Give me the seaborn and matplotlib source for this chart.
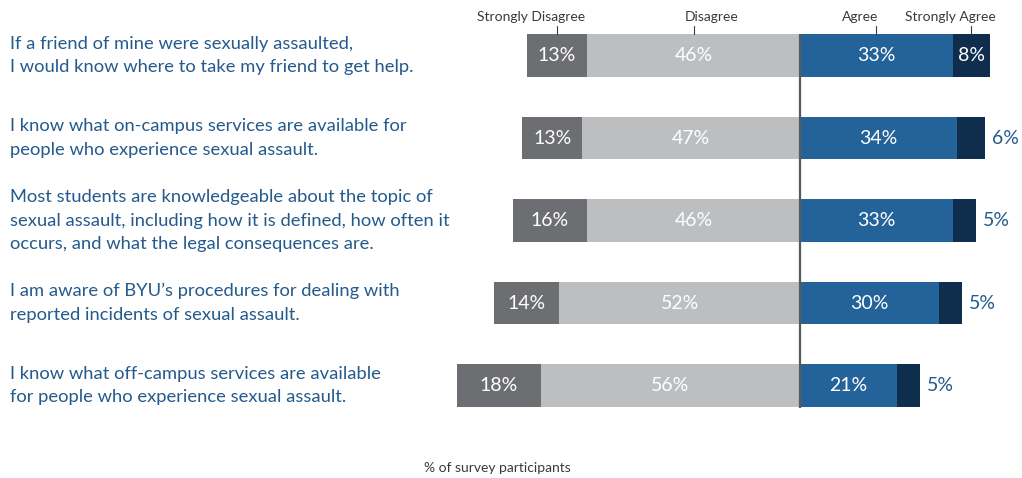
import matplotlib
matplotlib.use("Agg")
import matplotlib.pyplot as plt
import matplotlib.transforms as mtransforms
import numpy as np
import pandas as pd
import seaborn as sns

# Survey statements and response shares (%)
statements = [
    "If a friend of mine were sexually assaulted,\nI would know where to take my friend to get help.",
    "I know what on-campus services are available for\npeople who experience sexual assault.",
    "Most students are knowledgeable about the topic of\nsexual assault, including how it is defined, how often it\noccurs, and what the legal consequences are.",
    "I am aware of BYU\u2019s procedures for dealing with\nreported incidents of sexual assault.",
    "I know what off-campus services are available\nfor people who experience sexual assault.",
]
strongly_disagree = [13, 13, 16, 14, 18]
disagree = [46, 47, 46, 52, 56]
agree = [33, 34, 33, 30, 21]
strongly_agree = [8, 6, 5, 5, 5]
response_labels = ["Strongly Disagree", "Disagree", "Agree", "Strongly Agree"]

C_SD = "#6d6e71"
C_D = "#bcbec0"
C_A = "#246399"
C_SA = "#0f2e4d"
C_TEXT = "#245a8c"
C_GRAY = "#3a3a3a"

sns.set_theme(style="white")
plt.rcParams["font.family"] = ["Lato", "DejaVu Sans"]

df = pd.DataFrame({
    "statement": statements,
    "sd": strongly_disagree,
    "d": disagree,
    "a": agree,
    "sa": strongly_agree,
})
df["neg_total"] = -(df["sd"] + df["d"])
df["neg_d"] = -df["d"]
df["pos_total"] = df["a"] + df["sa"]

fig = plt.figure(figsize=(10.22, 4.78), dpi=100)
ax = fig.add_axes([0, 0, 1, 1])

bar_h = 0.52
# Layered bars: full extent first, inner segment drawn on top
for col, color in [("neg_total", C_SD), ("neg_d", C_D), ("pos_total", C_SA), ("a", C_A)]:
    sns.barplot(data=df, x=col, y="statement", orient="h", color=color,
                width=bar_h, saturation=1, linewidth=0, ax=ax)

px_per_unit = 4.63
ax.set_xlim(-800 / px_per_unit, 222 / px_per_unit)
ax.set_ylim((478 - 55.5) / 82.5, -55.5 / 82.5)
ax.axis("off")

# Centre divider
ax.plot([0, 0], [-bar_h / 2, 4.27], color="#58595b", lw=1.6, solid_capstyle="butt", zorder=5)

fs_pct = 14
pct_kw = dict(va="center", fontsize=fs_pct)
for i in range(len(statements)):
    sd, d, a, sa = strongly_disagree[i], disagree[i], agree[i], strongly_agree[i]
    ax.text(-d - sd / 2, i, f"{sd}%", color="white", ha="center", **pct_kw)
    ax.text(-d / 2, i, f"{d}%", color="white", ha="center", **pct_kw)
    ax.text(a / 2, i, f"{a}%", color="white", ha="center", **pct_kw)
    if sa >= 8:
        ax.text(a + sa / 2, i, f"{sa}%", color="white", ha="center", **pct_kw)
    else:
        ax.text(a + sa + 1.5, i, f"{sa}%", color=C_TEXT, ha="left", **pct_kw)

# Statement labels on the left
trans = mtransforms.blended_transform_factory(fig.transFigure, ax.transData)
for i, s in enumerate(statements):
    ax.text(10 / 1022, i, s, transform=trans, ha="left", va="center",
            color=C_TEXT, fontsize=13.25, linespacing=1.57)

# Response category headers with ticks above the first row
sd0, d0, a0, sa0 = strongly_disagree[0], disagree[0], agree[0], strongly_agree[0]
tick_x = [-d0 - sd0 / 2, -d0 / 2, a0 / 2, a0 + sa0 / 2]
label_dx = [-5.5, 4.0, -3.5, -4.5]
for lbl, tx, dx in zip(response_labels, tick_x, label_dx):
    ax.plot([tx, tx], [-0.36, -bar_h / 2], color=C_GRAY, lw=0.8)
    ax.text(tx + dx, -0.465, lbl, ha="center", va="center", fontsize=10, color=C_GRAY)

fig.text(497 / 1022, 1 - 468 / 478, "% of survey participants", ha="center", va="center",
         fontsize=10, color=C_GRAY)

fig.savefig("out.png", dpi=100)
